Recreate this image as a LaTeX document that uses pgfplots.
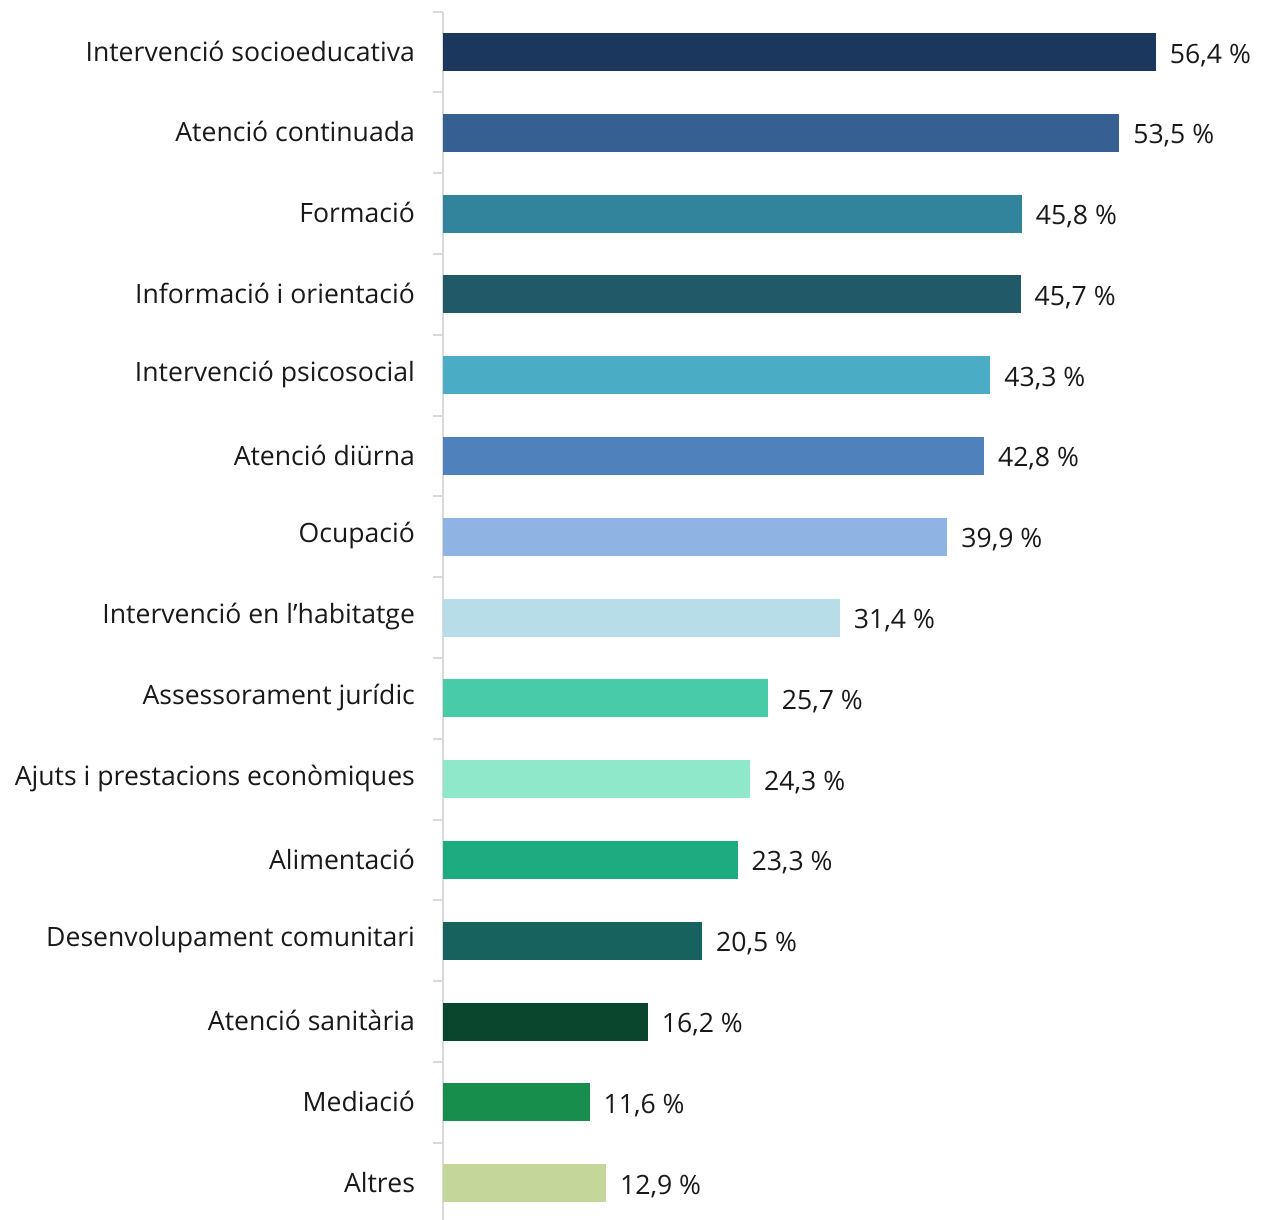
\documentclass[border=0pt]{standalone}
\usepackage{fontspec}
\setmainfont{Open Sans}
\usepackage{pgfplots}
\pgfplotsset{compat=1.18}
\definecolor{c0}{HTML}{1B375E}
\definecolor{c1}{HTML}{376092}
\definecolor{c2}{HTML}{31849B}
\definecolor{c3}{HTML}{215968}
\definecolor{c4}{HTML}{4BACC6}
\definecolor{c5}{HTML}{4F81BD}
\definecolor{c6}{HTML}{8EB4E3}
\definecolor{c7}{HTML}{B7DEE8}
\definecolor{c8}{HTML}{48CCA8}
\definecolor{c9}{HTML}{8EE8C9}
\definecolor{c10}{HTML}{1CAC80}
\definecolor{c11}{HTML}{17625E}
\definecolor{c12}{HTML}{0A452D}
\definecolor{c13}{HTML}{178E4B}
\definecolor{c14}{HTML}{C4D79B}
\definecolor{axgray}{HTML}{D9D9D9}
\begin{document}
\begin{tikzpicture}
\begin{axis}[
  xbar, bar width=19pt, bar shift=0pt,
  scale only axis, width=379.2pt, height=604.3pt,
  xmin=0, xmax=60, ymin=-0.5, ymax=14.46, y dir=reverse,
  axis y line*=left, axis x line=none,
  y axis line style={draw=axgray, line width=1pt},
  ytick={0,...,14},
  yticklabels={Intervenció socioeducativa,Atenció continuada,Formació,Informació i orientació,Intervenció psicosocial,Atenció diürna,Ocupació,Intervenció en l’habitatge,Assessorament jurídic,Ajuts i prestacions econòmiques,Alimentació,Desenvolupament comunitari,Atenció sanitària,Mediació,Altres},
  minor ytick={-0.5,0.5,...,13.5},
  major tick length=0pt, minor tick length=5pt, tick align=outside,
  tick style={draw=axgray, line width=1pt},
  yticklabel style={font=\fontsize{13.3}{16}\selectfont, text=black!90, xshift=-10.5pt, yshift=0.5pt},
  nodes near coords={\pgfmathprintnumber[fixed,fixed zerofill,precision=1,use comma,assume math mode=true]{\pgfplotspointmeta}~\%},
  every node near coord/.append style={font=\fontsize{13.3}{16}\selectfont, text=black!90, anchor=west, xshift=3.5pt, yshift=-1.5pt},
  clip=false,
]
\addplot[fill=c0, draw=none] coordinates {(56.4,0)};
\addplot[fill=c1, draw=none] coordinates {(53.5,1)};
\addplot[fill=c2, draw=none] coordinates {(45.8,2)};
\addplot[fill=c3, draw=none] coordinates {(45.7,3)};
\addplot[fill=c4, draw=none] coordinates {(43.3,4)};
\addplot[fill=c5, draw=none] coordinates {(42.8,5)};
\addplot[fill=c6, draw=none] coordinates {(39.9,6)};
\addplot[fill=c7, draw=none] coordinates {(31.4,7)};
\addplot[fill=c8, draw=none] coordinates {(25.7,8)};
\addplot[fill=c9, draw=none] coordinates {(24.3,9)};
\addplot[fill=c10, draw=none] coordinates {(23.3,10)};
\addplot[fill=c11, draw=none] coordinates {(20.5,11)};
\addplot[fill=c12, draw=none] coordinates {(16.2,12)};
\addplot[fill=c13, draw=none] coordinates {(11.6,13)};
\addplot[fill=c14, draw=none] coordinates {(12.9,14)};
\coordinate (tl) at (axis cs:0,-0.5);
\end{axis}
\pgfresetboundingbox
\path ([xshift=-221.5pt,yshift=5.85pt]tl) rectangle ++(634.5pt,-610pt);
\end{tikzpicture}
\end{document}
